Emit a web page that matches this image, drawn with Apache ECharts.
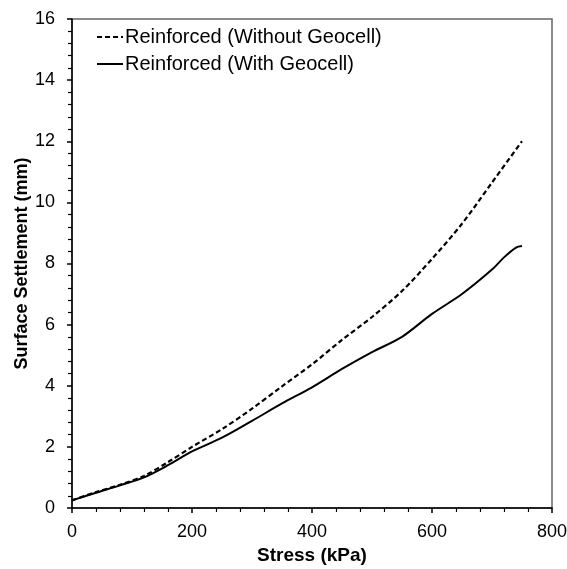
<!DOCTYPE html>
<html>
<head>
    <meta charset="utf-8">
    <script src="https://cdn.jsdelivr.net/npm/echarts@6/dist/echarts.min.js"></script>
</head>
<body style="margin:0;background:#fff;">
<div id="main" style="width: 567px;height:569px;"></div>
<script type="text/javascript">
    // stress (kPa) and settlement (mm)
    var stressWithout = [0, 40, 80, 120, 160, 200, 250, 300, 350, 400, 450, 500, 550, 600, 650, 700, 750];
    var settleWithout = [0.25, 0.52, 0.76, 1.05, 1.5, 2.0, 2.58, 3.25, 3.98, 4.7, 5.5, 6.25, 7.1, 8.15, 9.3, 10.65, 12.0];
    var stressWith = [0, 40, 80, 120, 160, 200, 250, 300, 350, 400, 450, 500, 550, 600, 650, 700, 720, 740, 750];
    var settleWith = [0.25, 0.5, 0.74, 1.0, 1.4, 1.85, 2.3, 2.85, 3.42, 3.95, 4.55, 5.1, 5.6, 6.35, 7.0, 7.8, 8.2, 8.52, 8.57];
    var seriesNames = ['Reinforced (Without Geocell)', 'Reinforced (With Geocell)'];

    function pairs(xs, ys) {
        return xs.map(function (x, i) { return [x, ys[i]]; });
    }

    var myChart = echarts.init(document.getElementById('main'));
    var font = 'Liberation Sans, Arial, sans-serif';

    var option = {
        backgroundColor: '#fff',
        animation: false,
        grid: {
            left: 72, right: 15, top: 19, bottom: 61,
            outerBoundsMode: 'none',
            containLabel: false,
            show: true, borderColor: '#666', borderWidth: 1.5
        },
        legend: {
            orient: 'vertical',
            left: 91, top: 22,
            itemWidth: 26, itemHeight: 10, itemGap: 7,
            data: seriesNames,
            itemStyle: { color: 'rgba(0,0,0,0)', borderWidth: 0 },
            textStyle: { fontFamily: font, fontSize: 20, color: '#000', padding: [0, 0, 0, -3] }
        },
        xAxis: {
            type: 'value', min: 0, max: 800, interval: 200,
            name: 'Stress (kPa)', nameLocation: 'middle', nameGap: 38,
            nameMoveOverlap: false,
            nameTextStyle: { fontFamily: font, fontSize: 19, fontWeight: 'bold', color: '#000' },
            axisLine: { lineStyle: { color: '#000', width: 1.5 } },
            axisTick: { show: true, inside: false, length: 5, lineStyle: { color: '#000', width: 1.5 } },
            minorTick: { show: true, splitNumber: 5, length: 4, lineStyle: { color: '#000', width: 1.2 } },
            axisLabel: { fontFamily: font, fontSize: 18, color: '#000', margin: 15 },
            splitLine: { show: false }
        },
        yAxis: {
            type: 'value', min: 0, max: 16, interval: 2,
            name: 'Surface Settlement (mm)', nameLocation: 'middle', nameGap: 41,
            nameMoveOverlap: false,
            nameTextStyle: { fontFamily: font, fontSize: 18, fontWeight: 'bold', color: '#000' },
            axisLine: { show: true, lineStyle: { color: '#000', width: 1.5 } },
            axisTick: { show: true, inside: false, length: 5, lineStyle: { color: '#000', width: 1.5 } },
            minorTick: { show: true, splitNumber: 5, length: 4, lineStyle: { color: '#000', width: 1.2 } },
            axisLabel: { fontFamily: font, fontSize: 18, color: '#000', margin: 17 },
            splitLine: { show: false }
        },
        series: [{
            name: seriesNames[0],
            type: 'line',
            data: pairs(stressWithout, settleWithout),
            smooth: 0.3,
            showSymbol: false,
            symbol: 'none',
            itemStyle: { color: '#000' },
            lineStyle: { color: '#000', width: 2.2, type: [5, 3] }
        }, {
            name: seriesNames[1],
            type: 'line',
            data: pairs(stressWith, settleWith),
            smooth: 0.3,
            showSymbol: false,
            symbol: 'none',
            itemStyle: { color: '#000' },
            lineStyle: { color: '#000', width: 2 }
        }]
    };

    myChart.setOption(option);
</script>
</body>
</html>
